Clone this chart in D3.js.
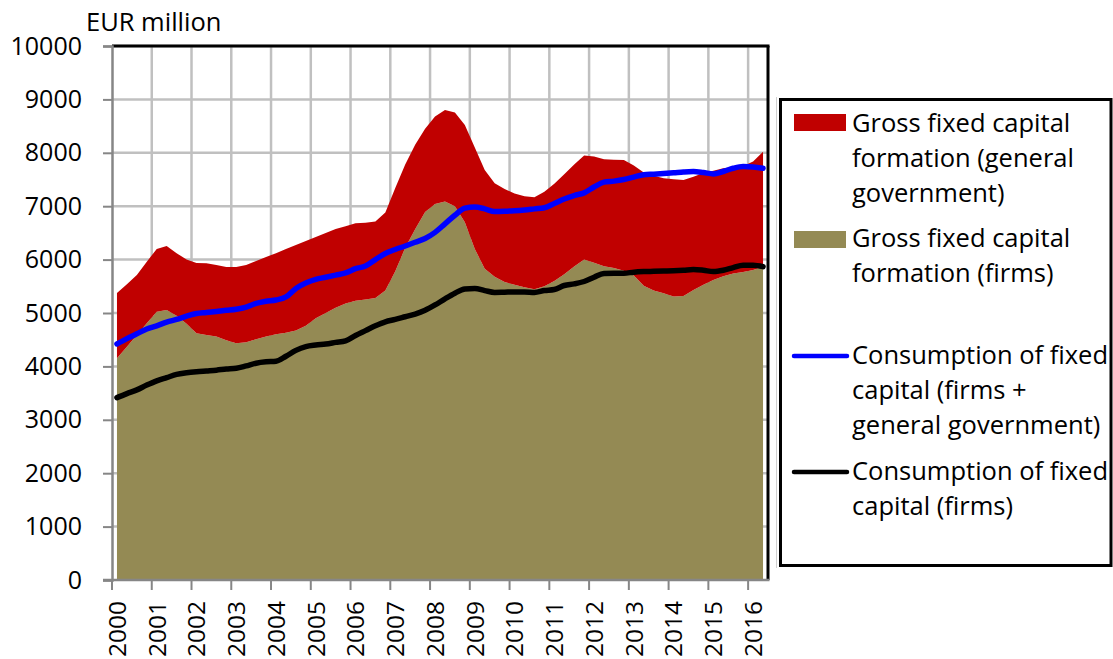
<script src="https://d3js.org/d3.v7.min.js"></script>

<style>
* { padding: 0px; margin: 0px; }
body { background: #fff; }
svg text { font-family: 'Open Sans', 'Noto Sans', sans-serif; fill: #000; }
</style>

<svg width="1113" height="659"></svg>

<script>
// year labels on the x axis, data is quarterly 2000Q1 - 2016Q2
const years = ["2000","2001","2002","2003","2004","2005","2006","2007","2008",
               "2009","2010","2011","2012","2013","2014","2015","2016"]
const quarters = []
for (let y of years) for (let q = 1; q <= 4; q++) quarters.push(y + "Q" + q)
quarters.splice(66)

const yTicks = [0,1000,2000,3000,4000,5000,6000,7000,8000,9000,10000]

// gross fixed capital formation, firms (EUR million)
const gfcfFirms = [4152,4370,4589,4810, 5025,5057,4950,4800, 4620,4590,4560,4490,
    4433,4450,4510,4560, 4600,4630,4670,4760, 4900,5000,5100,5180,
    5230,5255,5280,5420, 5780,6220,6570,6890, 7040,7086,7000,6700,
    6200,5830,5680,5580, 5530,5480,5445,5500, 5600,5725,5870,6000,
    5940,5875,5845,5790, 5700,5510,5420,5370, 5310,5320,5430,5530,
    5620,5690,5740,5770, 5806,5868]

// gross fixed capital formation, general government
const gfcfGov = [1223,1170,1123,1150, 1175,1199,1170,1200, 1317,1340,1340,1372,
    1427,1450,1465,1490, 1520,1570,1605,1590, 1525,1500,1475,1445,
    1450,1435,1435,1460, 1560,1560,1580,1560, 1640,1714,1753,1822,
    1900,1849,1750,1740, 1710,1705,1723,1770, 1820,1875,1910,1950,
    1990,2005,2025,2077, 2060,2120,2150,2155, 2195,2172,2120,2090,
    2045,2022,1995,1985, 2029,2154]

// consumption of fixed capital, firms + general government
const cfcTotal = [4420,4520,4610,4700, 4760,4830,4880,4940, 4990,5010,5030,5050,
    5070,5110,5180,5220, 5244,5300,5460,5560, 5630,5670,5710,5750,
    5830,5880,6000,6115, 6190,6255,6325,6395, 6510,6670,6830,6965,
    6985,6950,6900,6905, 6915,6930,6950,6970, 7050,7135,7200,7250,
    7360,7450,7470,7500, 7545,7590,7600,7612, 7625,7640,7648,7630,
    7605,7650,7710,7742, 7735,7711]

// consumption of fixed capital, firms
const cfcFirms = [3415,3490,3560,3650, 3730,3790,3850,3880, 3900,3915,3930,3950,
    3965,4010,4060,4085, 4095,4190,4300,4370, 4400,4420,4450,4480,
    4580,4670,4760,4835, 4880,4930,4980,5050, 5150,5265,5370,5450,
    5460,5420,5385,5390, 5395,5395,5385,5420, 5440,5515,5545,5590,
    5670,5740,5744,5745, 5765,5775,5780,5785, 5790,5800,5815,5800,
    5775,5800,5850,5895, 5895,5868]

const colors = {gov: "#c00000", firms: "#948a54", total: "#0000ff", cfcFirms: "#000000"}

let svg = d3.select("svg")
let pLeft = 112, pRight = 768, pTop = 46, pBottom = 580

let x = d3.scaleBand().domain(quarters).range([pLeft, pRight])
let xc = (q) => x(q) + x.bandwidth() / 2
let y = d3.scaleLinear().domain([0, 10000]).range([pBottom, pTop])

let table = quarters.map((q, i) => ({q: q, firms: gfcfFirms[i], gov: gfcfGov[i]}))
let stacked = d3.stack().keys(["firms", "gov"])(table)

// grid
let grid = svg.append("g")
grid.selectAll(".hg").data(yTicks.slice(1)).enter().append("line")
    .attr("x1", pLeft).attr("x2", pRight)
    .attr("y1", d => y(d)).attr("y2", d => y(d))
    .attr("stroke", "#c0c0c0").attr("stroke-width", 2.5)
grid.selectAll(".vg").data(years.slice(1)).enter().append("line")
    .attr("x1", d => x(d + "Q1")).attr("x2", d => x(d + "Q1"))
    .attr("y1", pTop).attr("y2", pBottom)
    .attr("stroke", "#c0c0c0").attr("stroke-width", 2.5)

// stacked areas
let area = d3.area()
    .x((d, i) => xc(quarters[i]))
    .y0(d => y(d[0])).y1(d => y(d[1]))
svg.selectAll(".area").data(stacked).enter().append("path")
    .attr("d", area)
    .attr("fill", d => colors[d.key])

// lines
let line = d3.line()
    .x((d, i) => xc(quarters[i]))
    .y(d => y(d))
    .curve(d3.curveMonotoneX)
svg.append("path").datum(cfcTotal).attr("d", line)
    .attr("fill", "none").attr("stroke", colors.total).attr("stroke-width", 5.5)
    .attr("stroke-linejoin", "round").attr("stroke-linecap", "round")
svg.append("path").datum(cfcFirms).attr("d", line)
    .attr("fill", "none").attr("stroke", colors.cfcFirms).attr("stroke-width", 5.5)
    .attr("stroke-linejoin", "round").attr("stroke-linecap", "round")

// frame (top / right black)
svg.append("line").attr("x1", pLeft).attr("x2", pRight + 1.5).attr("y1", pTop).attr("y2", pTop)
    .attr("stroke", "#000").attr("stroke-width", 3)
svg.append("line").attr("x1", pRight).attr("x2", pRight).attr("y1", pTop).attr("y2", pBottom)
    .attr("stroke", "#000").attr("stroke-width", 3)

// y axis
let yAxis = svg.append("g").attr("transform", "translate(" + pLeft + ",0)")
    .call(d3.axisLeft(y).tickValues(yTicks).tickSize(9).tickPadding(21).tickFormat(d3.format("d")))
yAxis.select(".domain").attr("stroke", "#868686").attr("stroke-width", 2.5)
yAxis.selectAll(".tick line").attr("stroke", "#868686").attr("stroke-width", 2)
yAxis.selectAll(".tick text").attr("font-size", "25px").attr("fill", "#000")

// x axis
let xAxis = svg.append("g").attr("transform", "translate(0," + pBottom + ")")
xAxis.append("line").attr("x1", pLeft - 9).attr("x2", pRight + 1.5).attr("y1", 0).attr("y2", 0)
    .attr("stroke", "#868686").attr("stroke-width", 2.5)
xAxis.selectAll(".xt").data(years).enter().append("line")
    .attr("x1", d => x(d + "Q1")).attr("x2", d => x(d + "Q1"))
    .attr("y1", 0).attr("y2", 10)
    .attr("stroke", "#868686").attr("stroke-width", 2)
xAxis.selectAll(".xl").data(years).enter().append("text")
    .attr("transform", d => "translate(" + xc(d + "Q1") + ",21) rotate(-90)")
    .attr("text-anchor", "end")
    .attr("dy", "0.36em")
    .attr("font-size", "24.5px")
    .text(d => d)

svg.append("text").attr("x", 86).attr("y", 31).attr("font-size", "25.5px").text("EUR million")

// legend
let lg = svg.append("g")
lg.append("line").attr("x1", 776.5).attr("x2", 776.5).attr("y1", 97).attr("y2", 568)
    .attr("stroke", "#d0d0d0").attr("stroke-width", 1)
lg.append("rect").attr("x", 780.5).attr("y", 99.5).attr("width", 330.5).attr("height", 466)
    .attr("fill", "#fff").attr("stroke", "#000").attr("stroke-width", 3)

const legendItems = [
    {key: "gov", type: "rect", y: 114, lines: ["Gross fixed capital", "formation (general", "government)"], base: 132},
    {key: "firms", type: "rect", y: 231, lines: ["Gross fixed capital", "formation (firms)"], base: 247},
    {key: "total", type: "line", y: 356, lines: ["Consumption of fixed", "capital (firms +", "general government)"], base: 364},
    {key: "cfcFirms", type: "line", y: 472, lines: ["Consumption of fixed", "capital (firms)"], base: 480}
]
legendItems.forEach(function (it) {
    if (it.type == "rect") {
        lg.append("rect").attr("x", 794).attr("y", it.y).attr("width", 52).attr("height", 17)
            .attr("fill", colors[it.key])
    } else {
        lg.append("line").attr("x1", 794).attr("x2", 847).attr("y1", it.y).attr("y2", it.y)
            .attr("stroke", colors[it.key]).attr("stroke-width", 4.5).attr("stroke-linecap", "round")
    }
    it.lines.forEach(function (t, j) {
        lg.append("text").attr("x", 852).attr("y", it.base + j * 35).attr("font-size", "25.5px").text(t)
    })
})
</script>
